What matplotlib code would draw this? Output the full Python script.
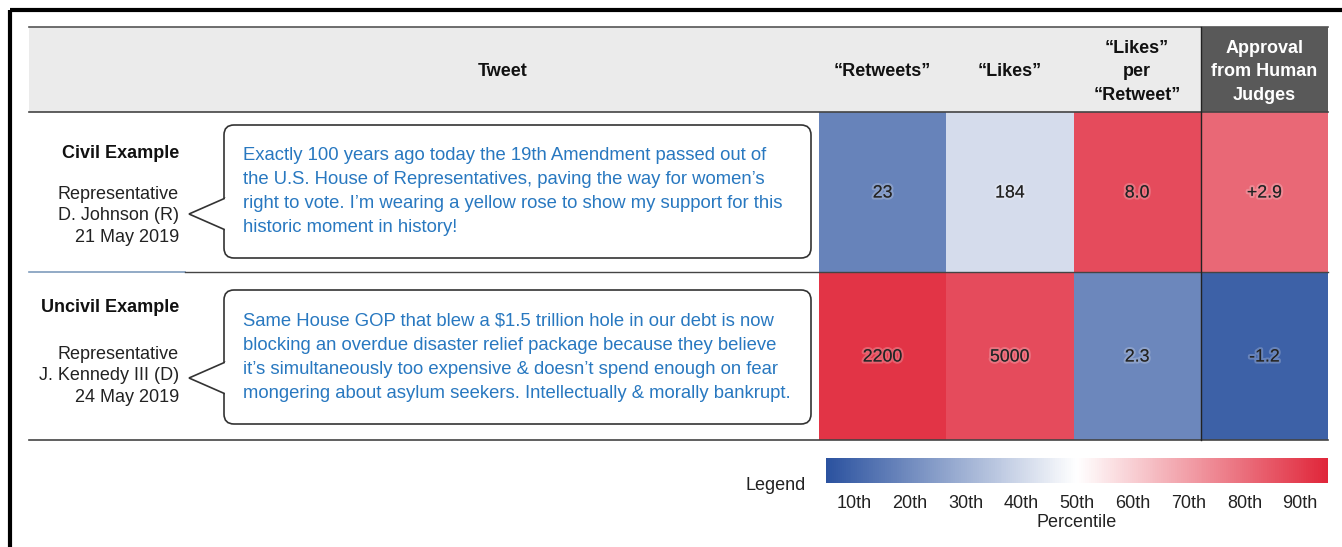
import matplotlib.pyplot as plt
import matplotlib.patheffects as pe
import numpy as np
from matplotlib.colors import LinearSegmentedColormap, Normalize
from matplotlib.colorbar import ColorbarBase
from matplotlib.patches import FancyBboxPatch, Rectangle, Polygon

plt.rcParams['font.family'] = ['Liberation Sans', 'DejaVu Sans']

# data
columns = ['\u201cRetweets\u201d', '\u201cLikes\u201d', '\u201cLikes\u201d\nper\n\u201cRetweet\u201d',
           'Approval\nfrom Human\nJudges']
row_titles = ['Civil Example', 'Uncivil Example']
authors = ['Representative\nD. Johnson (R)\n21 May 2019',
           'Representative\nJ. Kennedy III (D)\n24 May 2019']
tweets = [
    ['Exactly 100 years ago today the 19th Amendment passed out of',
     'the U.S. House of Representatives, paving the way for women\u2019s',
     'right to vote. I\u2019m wearing a yellow rose to show my support for this',
     'historic moment in history!'],
    ['Same House GOP that blew a $1.5 trillion hole in our debt is now',
     'blocking an overdue disaster relief package because they believe',
     'it\u2019s simultaneously too expensive & doesn\u2019t spend enough on fear',
     'mongering about asylum seekers. Intellectually & morally bankrupt.'],
]
cell_labels = [['23', '184', '8.0', '+2.9'],
               ['2200', '5000', '2.3', '-1.2']]
# estimated percentile of each cell (drives its colour)
percentiles = np.array([[18, 41, 87, 81],
                        [92, 87, 19, 9]])
pct_ticks = [10, 20, 30, 40, 50, 60, 70, 80, 90]

cmap = LinearSegmentedColormap.from_list('bwr_custom', ['#2b529f', '#ffffff', '#e0263a'])
norm = Normalize(5, 95)

W, H = 1342, 547
fig = plt.figure(figsize=(W / 100, H / 100), dpi=100)
ax = fig.add_axes([0, 0, 1, 1])
ax.set_xlim(0, W)
ax.set_ylim(H, 0)
ax.axis('off')

# layout (pixels)
left, right = 29, 1328
head_top, head_bot = 27, 112
row_edges = [112, 272, 440]
col_edges = np.linspace(819, 1328, 5)
dark = '#444444'

# black frame
ax.plot([10, W], [10, 10], color='black', lw=3, solid_capstyle='butt')
ax.plot([10, 10], [10, H], color='black', lw=3, solid_capstyle='butt')

# header band
ax.add_patch(Rectangle((left, head_top), right - left, head_bot - head_top,
                       fc='#ebebeb', ec='none'))
ax.add_patch(Rectangle((col_edges[3], head_top), col_edges[4] - col_edges[3],
                       head_bot - head_top, fc='#595959', ec='none'))
ax.plot([left, right], [head_top, head_top], color='#555555', lw=1.2)

ax.text(503, 72, 'Tweet', ha='center', va='center', fontsize=13, fontweight='bold', color='#111111')
for j, name in enumerate(columns):
    cx = (col_edges[j] + col_edges[j + 1]) / 2
    ax.text(cx, 72, name, ha='center', va='center', fontsize=13, fontweight='bold',
            color='white' if j == 3 else '#111111', linespacing=1.5)

# heat cells
ax.pcolormesh(col_edges, row_edges, percentiles, cmap=cmap, norm=norm, shading='flat')
glow = [pe.withStroke(linewidth=3, foreground=(1, 1, 1, 0.22))]
for i in range(2):
    cy = (row_edges[i] + row_edges[i + 1]) / 2
    for j in range(4):
        cx = (col_edges[j] + col_edges[j + 1]) / 2
        ax.text(cx, cy + 1, cell_labels[i][j], ha='center', va='center', fontsize=12.8,
                color='#222222', path_effects=glow)

# rules
ax.plot([left, right], [row_edges[0], row_edges[0]], color=dark, lw=1.2)
ax.plot([left, 185], [row_edges[1], row_edges[1]], color='#7f9cbc', lw=1.2)
ax.plot([185, right], [row_edges[1], row_edges[1]], color=dark, lw=1.0)
ax.plot([left, right], [row_edges[2], row_edges[2]], color=dark, lw=1.2)
ax.plot([col_edges[3], col_edges[3]], [head_top, row_edges[2]], color='#222222', lw=1.0)

# row labels, bubbles, tweets
bubbles = [(125, 258, 214), (290, 424, 378)]
title_y = [153, 308]
author_y = [216, 376]
for i in range(2):
    top, bot, tip = bubbles[i]
    ax.text(179, title_y[i], row_titles[i], ha='right', va='center', fontsize=13,
            fontweight='bold', color='#111111')
    ax.text(179, author_y[i], authors[i], ha='right', va='center', fontsize=13,
            color='#222222', linespacing=1.34)
    ax.add_patch(FancyBboxPatch((224, top), 811 - 224, bot - top,
                                boxstyle='round,pad=0,rounding_size=10',
                                fc='white', ec='#333333', lw=1.2))
    ax.add_patch(Polygon([[225.5, tip - 16], [189, tip], [225.5, tip + 16]], closed=False,
                         fc='white', ec='#333333', lw=1.2, joinstyle='miter', zorder=3))
    ax.plot([225.5, 225.5], [tip - 15, tip + 15], color='white', lw=2.2, zorder=3)
    mid = (top + bot) / 2
    for k, line in enumerate(tweets[i]):
        ax.text(243, mid + (k - 1.5) * 24, line, ha='left', va='center', fontsize=13.3,
                color='#2878c0')

# legend colour bar
ax.text(776, 486, 'Legend', ha='center', va='center', fontsize=13, color='#222222')
cax = fig.add_axes([826 / W, 1 - 483 / H, 502 / W, 25 / H])
cb = ColorbarBase(cax, cmap=cmap, norm=norm, orientation='horizontal', ticks=pct_ticks)
cb.outline.set_visible(False)
cb.set_ticklabels([f'{p}th' for p in pct_ticks])
cax.tick_params(length=0, labelsize=13, labelcolor='#222222', pad=9)
cb.set_label('Percentile', fontsize=13, color='#222222', labelpad=1)

fig.savefig('out.png', dpi=100)
